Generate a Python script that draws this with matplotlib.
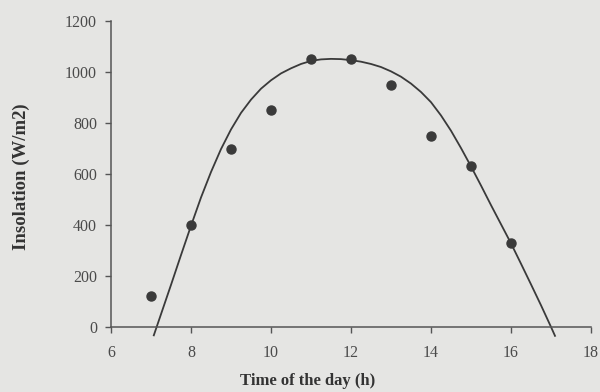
import matplotlib
matplotlib.use("Agg")
import matplotlib.pyplot as plt

# measured insolation (hour, W/m2)
hours = [7, 8, 9, 10, 11, 12, 13, 14, 15, 16]
insolation = [120, 400, 700, 850, 1050, 1050, 950, 750, 630, 330]

# fitted trend curve
curve_hours = [7.07, 7.25, 7.5, 7.75, 8.0, 8.25, 8.5, 8.75, 9.0, 9.25, 9.5, 9.75,
               10.0, 10.25, 10.5, 10.75, 11.0, 11.25, 11.5, 11.75, 12.0, 12.25,
               12.5, 12.75, 13.0, 13.25, 13.5, 13.75, 14.0, 14.25, 14.5, 14.75,
               15.0, 15.25, 15.5, 15.75, 16.0, 16.25, 16.5, 16.75, 17.0, 17.1]
curve_insolation = [-33, 50, 165, 282, 397, 508, 608, 698, 775, 840, 892, 935,
                    968, 995, 1015, 1032, 1044, 1050, 1052, 1051, 1047, 1041,
                    1032, 1020, 1003, 982, 955, 922, 882, 830, 770, 702,
                    630, 555, 478, 403, 328, 248, 167, 85, 0, -35]

x_ticks = [6, 8, 10, 12, 14, 16, 18]
y_ticks = [0, 200, 400, 600, 800, 1000, 1200]

bg = "#e5e5e3"
ink = "#3a3a3a"

plt.rcParams['font.family'] = ['Liberation Serif', 'DejaVu Serif']

fig = plt.figure(figsize=(6, 3.92), dpi=100, facecolor=bg)
ax = fig.add_axes([0.185, 0.166, 0.800, 0.780], facecolor=bg)

ax.plot(curve_hours, curve_insolation, color=ink, lw=1.3, clip_on=False, zorder=2)
ax.plot(hours, insolation, 'o', color=ink, ms=6.5, clip_on=False, zorder=3)

ax.set_xlim(6, 18)
ax.set_ylim(0, 1200)
ax.set_xticks(x_ticks)
ax.set_yticks(y_ticks)

for side in ['top', 'right']:
    ax.spines[side].set_visible(False)
for side in ['left', 'bottom']:
    ax.spines[side].set_color("#555555")
    ax.spines[side].set_linewidth(1.1)

ax.tick_params(direction='out', length=4, width=1, color="#555555",
               labelsize=11.5, labelcolor="#4a4a4a")
ax.tick_params(axis='x', pad=9)
ax.tick_params(axis='y', pad=6)

fig.text(0.513, 0.028, "Time of the day (h)", ha='center', va='center',
         fontsize=12, fontweight='bold', color="#333333")
fig.text(0.035, 0.55, "Insolation (W/m2)", ha='center', va='center', rotation=90,
         fontsize=13.5, fontweight='bold', color="#333333")

fig.savefig("out.png", dpi=100, facecolor=bg)
